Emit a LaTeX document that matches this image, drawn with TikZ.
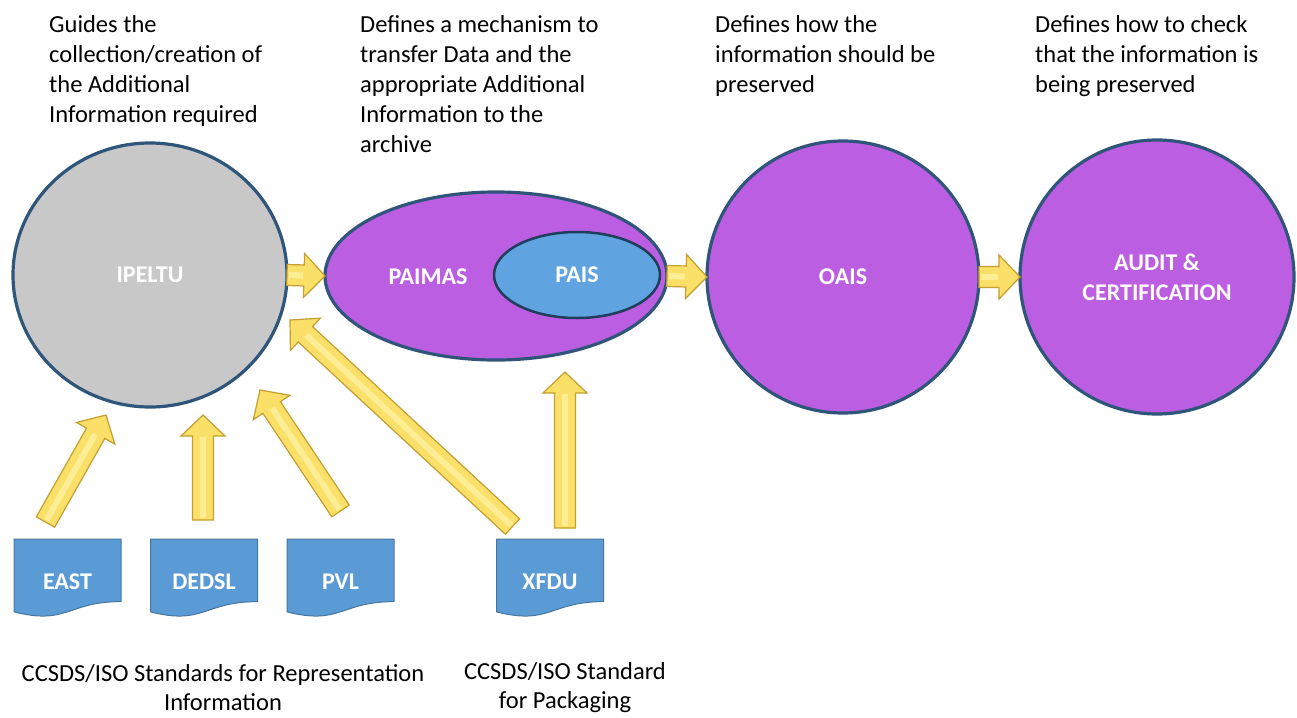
\documentclass[tikz,border=0pt]{standalone}
\usepackage{fontspec}
\setmainfont{Carlito}
\usetikzlibrary{shapes.geometric,calc,backgrounds}

\definecolor{lilac}{RGB}{187,94,226}
\definecolor{rimblue}{RGB}{47,86,122}
\definecolor{greyfill}{RGB}{200,200,200}
\definecolor{paisblue}{RGB}{96,163,225}
\definecolor{paisrim}{RGB}{32,62,92}
\definecolor{docblue}{RGB}{91,155,213}
\definecolor{docedge}{RGB}{70,118,160}
\definecolor{arrowyellow}{RGB}{250,224,104}
\definecolor{arrowedge}{RGB}{196,158,48}
\definecolor{arrowshine}{RGB}{255,244,170}

\tikzset{
  stage/.style={ellipse, draw=rimblue, line width=3.2pt, inner sep=0pt, outer sep=0pt,
    text=white, align=center, font=\fontsize{24}{30}\selectfont\bfseries},
  tag/.style={text=white, inner sep=0pt, align=center, font=\fontsize{24}{30}\selectfont\bfseries},
  note/.style={anchor=north west, inner sep=0pt, align=left, text=black,
    font=\fontsize{24.5}{30}\selectfont},
  caption/.style={inner sep=0pt, align=center, text=black, font=\fontsize{24.5}{29}\selectfont},
  docpage/.style={fill=docblue, draw=docedge, line width=1pt, line join=round},
  arrowbody/.style={fill=arrowyellow, draw=arrowedge, line width=1.2pt, line join=miter},
  arrowgleam/.style={draw=arrowshine, line width=6pt, opacity=0.7},
}

% block arrow from #1 (tail) to #2 (tip)
\newcommand\blockarrow[2]{%
  \coordinate (headbase) at ($(#2)!21pt!(#1)$);
  \filldraw[arrowbody]
    ($(#1)!10.5pt!90:(#2)$) -- ($(headbase)!10.5pt!90:(#2)$) --
    ($(headbase)!22pt!90:(#2)$) -- (#2) -- ($(headbase)!22pt!-90:(#2)$) --
    ($(headbase)!10.5pt!-90:(#2)$) -- ($(#1)!10.5pt!-90:(#2)$) -- cycle;
  \draw[arrowgleam] ($(#1)!2pt!(#2)$) -- ($(headbase)!1pt!(#1)$);
}

% document sheet with a wavy lower edge around node #1
\newcommand\docoutline[1]{%
  \draw[docpage] ([shift={(-53.5,-43)}]#1.center) -- ++(107,0) -- ++(0,62.6)
    .. controls +(-53.5,0) and +(53.5,13.5) .. ++(-107,10.3) -- cycle;
}

\begin{document}
\begin{tikzpicture}[x=1pt,y=-1pt]
\useasboundingbox (0,0) rectangle (1297,717);

% stages of the chain
\node[stage, fill=greyfill, minimum width=274pt, minimum height=264pt] (ipeltu) at (150,275) {IPELTU};
\node[stage, fill=lilac, minimum width=342pt, minimum height=168pt] (paimas) at (496,276) {};
\node[tag] (paimasLbl) at (428,277) {PAIMAS};
\node[stage, fill=paisblue, draw=paisrim, line width=2.5pt, minimum width=166pt, minimum height=86pt] (pais) at (577,275) {PAIS};
\node[stage, fill=lilac, minimum width=272pt, minimum height=272pt] (oais) at (843,277) {OAIS};
\node[stage, fill=lilac, minimum width=274pt, minimum height=274pt] (audit) at (1157,277) {AUDIT \&\\CERTIFICATION};

% descriptions above
\node[note] (noteA) at (49,15) {Guides the\\collection/creation of\\the Additional\\Information required};
\node[note] (noteB) at (360,15) {Defines a mechanism to\\transfer Data and the\\appropriate Additional\\Information to the\\archive};
\node[note] (noteC) at (715,15) {Defines how the\\information should be\\preserved};
\node[note] (noteD) at (1035,15) {Defines how to check\\that the information is\\being preserved};

% standards documents
\node[tag] (docEast) at (67.5,582) {EAST};
\node[tag] (docDedsl) at (204,582) {DEDSL};
\node[tag] (docPvl) at (340.5,582) {PVL};
\node[tag] (docXfdu) at (550,582) {XFDU};
\begin{pgfonlayer}{background}
  \fill[white] (0,0) rectangle (1297,717);
  \docoutline{docEast}
  \docoutline{docDedsl}
  \docoutline{docPvl}
  \docoutline{docXfdu}
\end{pgfonlayer}

\node[caption] (capRep) at (223,688) {CCSDS/ISO Standards for Representation\\Information};
\node[caption] (capPack) at (565,688) {CCSDS/ISO Standard\\for Packaging};

% arrow ends
\coordinate (eastTail) at (45.5,522);   \coordinate (eastTip) at (106,415);
\coordinate (dedslTail) at (203,520);   \coordinate (dedslTip) at (203,415);
\coordinate (pvlTail) at (340.5,511);   \coordinate (pvlTip) at (260,390);
\coordinate (xfduTailA) at (512.5,526.5); \coordinate (xfduTipA) at (290,320);
\coordinate (xfduTailB) at (565,528);   \coordinate (xfduTipB) at (565,372);

% flow along the chain
\blockarrow{ipeltu.east}{paimas.west}
\blockarrow{paimas.east}{oais.west}
\blockarrow{oais.east}{audit.west}

% inputs from the standards
\blockarrow{eastTail}{eastTip}
\blockarrow{dedslTail}{dedslTip}
\blockarrow{pvlTail}{pvlTip}
\blockarrow{xfduTailA}{xfduTipA}
\blockarrow{xfduTailB}{xfduTipB}
\end{tikzpicture}
\end{document}
